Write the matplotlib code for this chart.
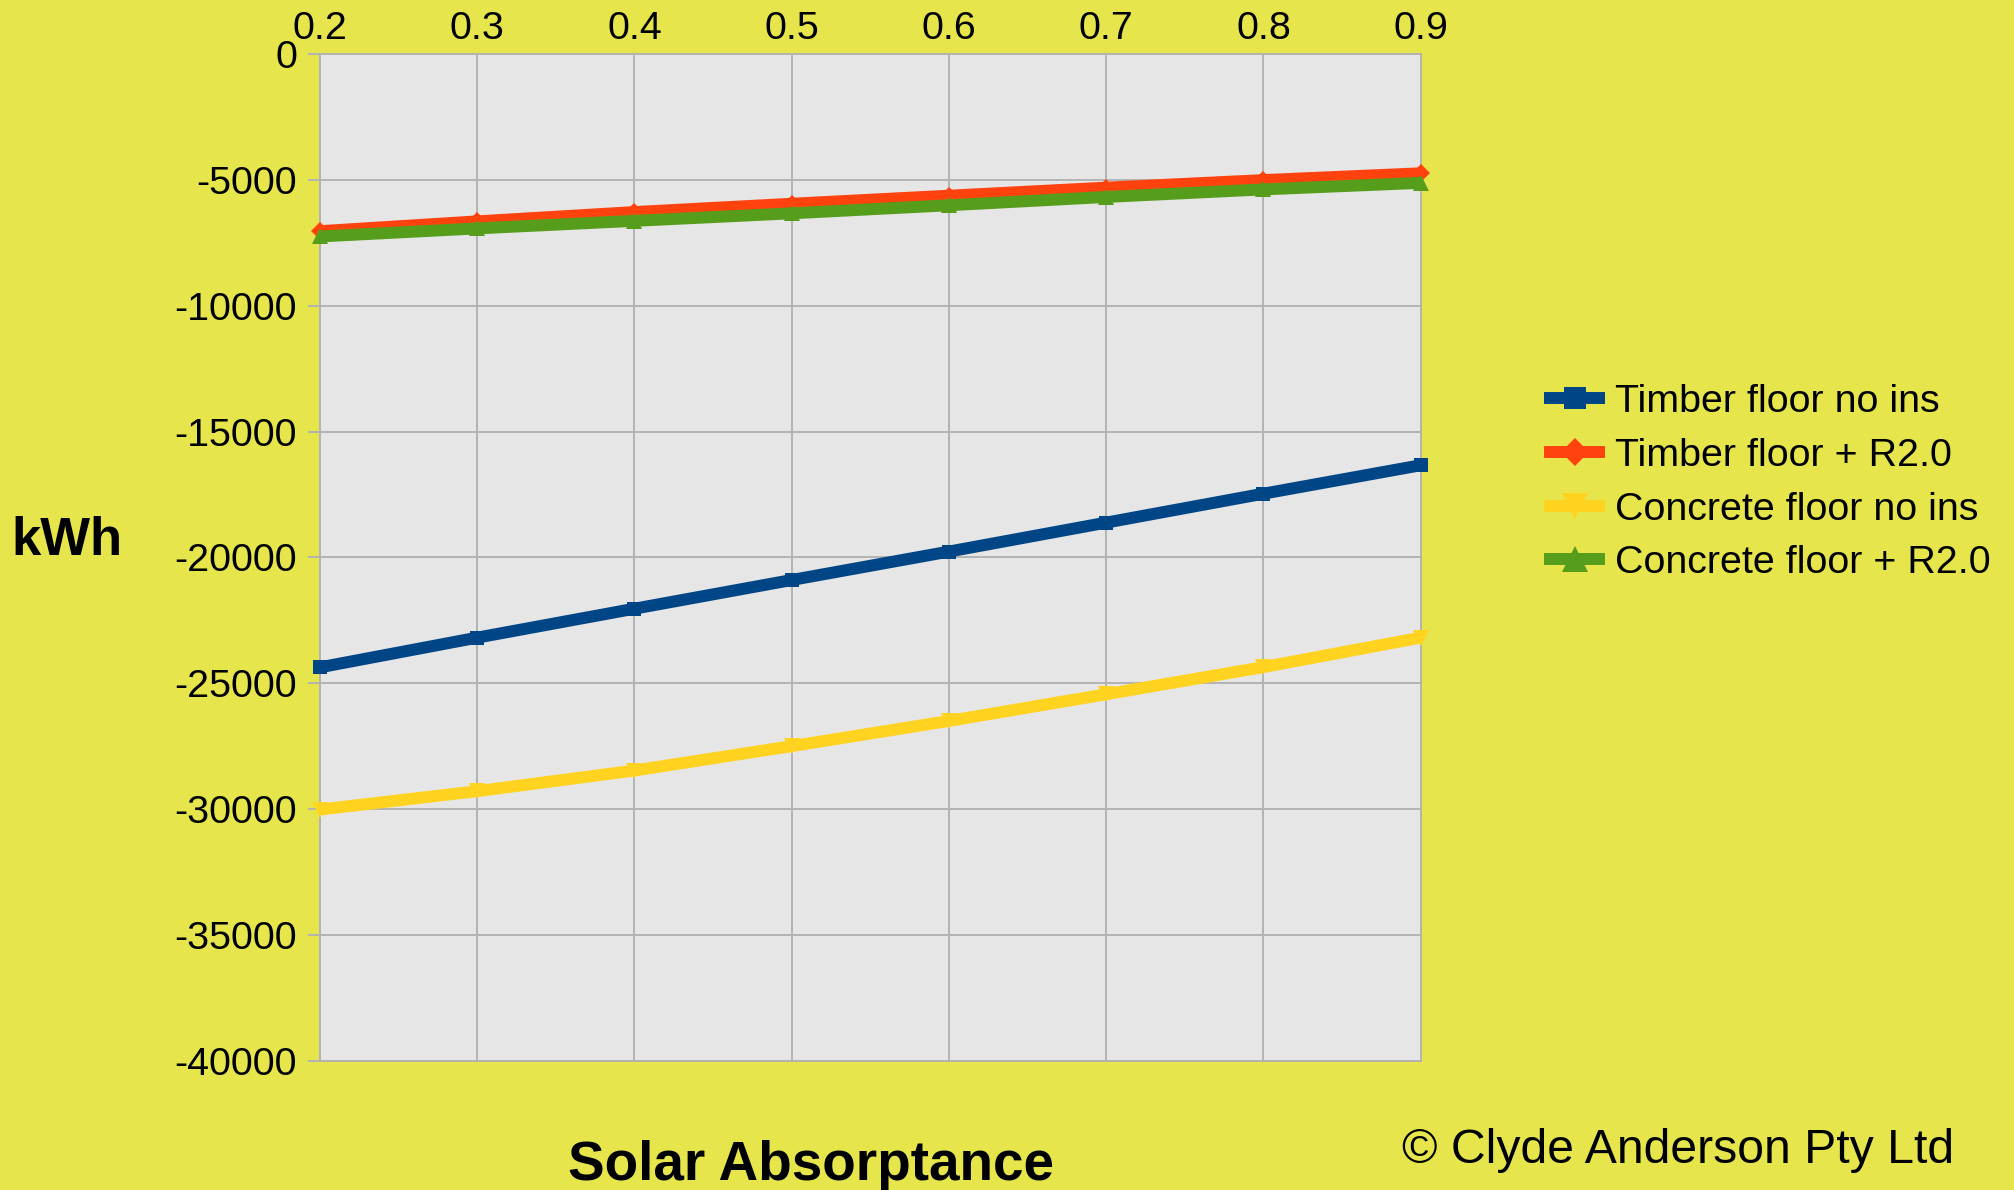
import matplotlib
matplotlib.use("Agg")
import matplotlib.pyplot as plt

absorptance = [0.2, 0.3, 0.4, 0.5, 0.6, 0.7, 0.8, 0.9]
timber_no_ins = [-24370, -23190, -22040, -20900, -19770, -18620, -17470, -16340]
timber_r20 = [-7040, -6650, -6280, -5950, -5630, -5310, -5010, -4740]
concrete_no_ins = [-30020, -29290, -28470, -27500, -26500, -25440, -24360, -23190]
concrete_r20 = [-7250, -6930, -6630, -6330, -6010, -5680, -5380, -5120]
y_ticks = [0, -5000, -10000, -15000, -20000, -25000, -30000, -35000, -40000]

bg = "#E6E64C"
plt.rcParams['font.family'] = ['Liberation Sans', 'DejaVu Sans']

fig = plt.figure(figsize=(20.14, 11.9), dpi=100, facecolor=bg)
ax = fig.add_axes([320 / 2014, 1 - 1060.7 / 1190, 1100.7 / 2014, 1006.7 / 1190])
ax.set_facecolor("#E6E6E6")

lw = 8.6
ax.plot(absorptance, timber_no_ins, color="#004586", lw=lw, marker="s", ms=10, mew=0,
        solid_capstyle="butt", label="Timber floor no ins", clip_on=False, zorder=3)
ax.plot(absorptance, timber_r20, color="#FF420E", lw=lw, marker="D", ms=9, mew=0,
        solid_capstyle="butt", label="Timber floor + R2.0", clip_on=False, zorder=3)
ax.plot(absorptance, concrete_no_ins, color="#FFD320", lw=lw, marker="v", ms=12, mew=0,
        solid_capstyle="butt", label="Concrete floor no ins", clip_on=False, zorder=3)
ax.plot(absorptance, concrete_r20, color="#579D1C", lw=lw, marker="^", ms=12, mew=0,
        solid_capstyle="butt", label="Concrete floor + R2.0", clip_on=False, zorder=3)

ax.set_xlim(0.2, 0.9)
ax.set_ylim(-40000, 0)
ax.set_xticks(absorptance)
ax.set_xticklabels([f"{v:.1f}" for v in absorptance])
ax.set_yticks(y_ticks)
ax.set_yticklabels([str(v) for v in y_ticks])
ax.xaxis.tick_top()
ax.tick_params(axis="x", length=0, pad=5, labelsize=28.4)
ax.tick_params(axis="y", length=8.6, width=1.4, color="#B3B3B3", pad=8, labelsize=28.4)
ax.grid(True, color="#B3B3B3", lw=1.4)
ax.set_axisbelow(True)
for s in ax.spines.values():
    s.set_color("#B3B3B3")
    s.set_linewidth(1.4)

fig.text(67 / 2014, 1 - 541 / 1190, "kWh", fontsize=38, fontweight="bold",
         ha="center", va="center")
fig.text(811 / 2014, 1 - 1180 / 1190, "Solar Absorptance", fontsize=39.5,
         fontweight="bold", ha="center", va="baseline")
fig.text(1402 / 2014, 1 - 1163 / 1190, "\u00a9 Clyde Anderson Pty Ltd", fontsize=34.7,
         ha="left", va="baseline")

leg = fig.legend(loc="upper left", bbox_to_anchor=(1544 / 2014, 1 - 384 / 1190),
                 frameon=False, fontsize=28.4, handlelength=1.55, handletextpad=0.25,
                 labelspacing=0.45, borderpad=0, borderaxespad=0, markerscale=1.6)

fig.savefig("out.png", dpi=100, facecolor=bg)
